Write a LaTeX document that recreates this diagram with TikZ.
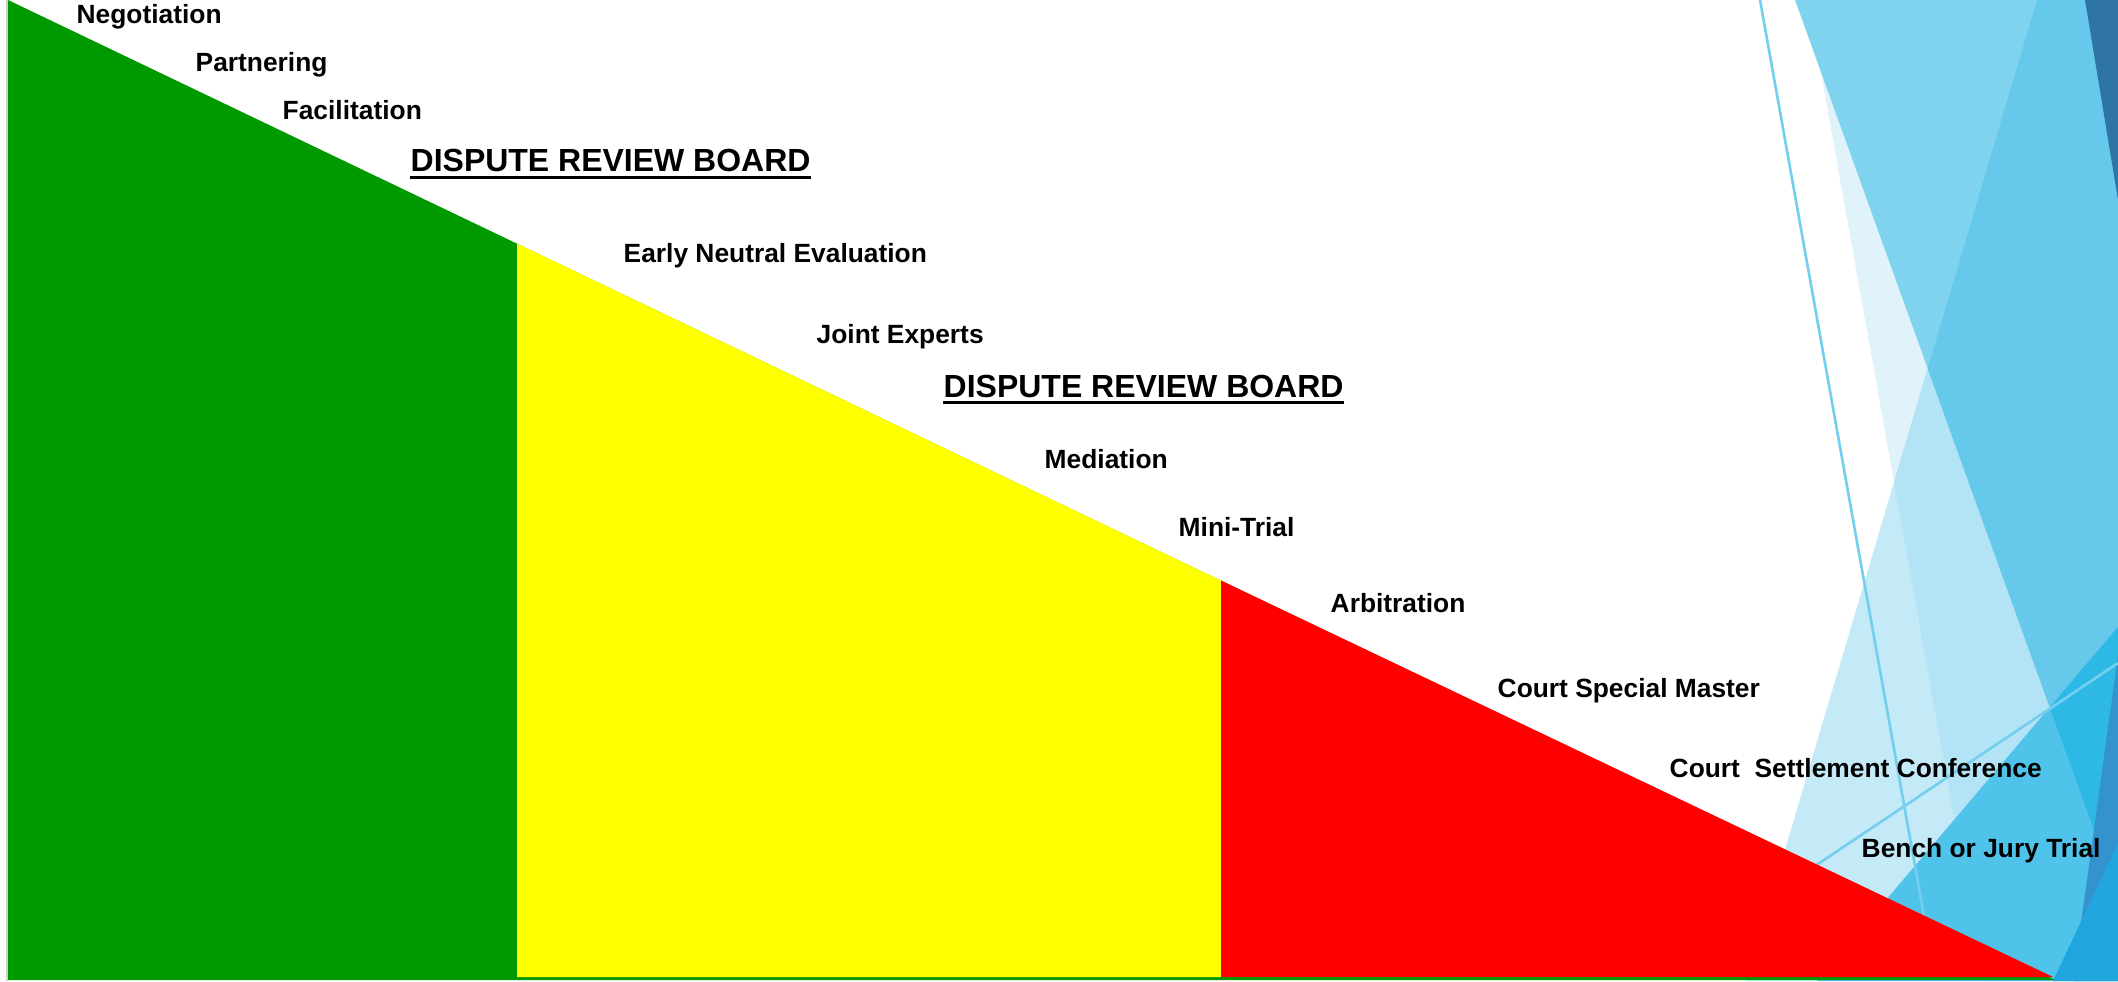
\documentclass[tikz,border=0pt]{standalone}
\usepackage{fontspec}
\setmainfont{Liberation Sans}
\usepackage{tikz}
\usetikzlibrary{positioning,calc}
\usepackage{xcolor}
\definecolor{adrgreen}{HTML}{009900}
\definecolor{adryellow}{HTML}{FFFF00}
\definecolor{adrred}{HTML}{FF0000}
\definecolor{facetpale}{HTML}{E0F3FA}
\definecolor{facetlight}{HTML}{C5EAF7}
\definecolor{facetmix}{HTML}{B3E4F5}
\definecolor{facetsky}{HTML}{7FD3EE}
\definecolor{facetmid}{HTML}{66C9EC}
\definecolor{facetbright}{HTML}{4FC3EA}
\definecolor{facetdeep}{HTML}{2DB8E6}
\definecolor{facetsteel}{HTML}{3493CE}
\definecolor{facetcorner}{HTML}{20A5DC}
\definecolor{facetnavy}{HTML}{2E75A6}
\definecolor{facetstroke}{HTML}{74CFEE}
\tikzset{
  steplabel/.style={
    anchor=base west,
    inner sep=0pt,
    font=\fontsize{7.5}{9}\selectfont\bfseries
  },
  boardlabel/.style={
    anchor=base west,
    inner sep=0pt,
    font=\fontsize{9.1}{11}\selectfont\bfseries
  },
  boardrule/.style={
    line width=0.85pt
  },
  facetthin/.style={
    draw=facetstroke,
    line width=0.75pt
  }
}

\begin{document}
\begin{tikzpicture}[x=0.1mm, y=-0.1mm]
\useasboundingbox (0,0) rectangle (2118,981);
% facet paths
\def\palefacet{(1808,0) -- (2118,0) -- (2118,981) -- (1983,981) -- cycle}
\def\lightfacet{(2037,0) -- (2118,0) -- (2118,981) -- (1746,981) -- cycle}
\def\skyfacet{(1795,0) -- (2118,0) -- (2118,897) -- cycle}
\def\brightfacet{(2118,627) -- (1817,981) -- (2118,981) -- cycle}
% blue facets on the right
\fill[facetpale] \palefacet;
\fill[facetlight] \lightfacet;
\begin{scope}
  \clip \lightfacet;
  \fill[facetmix] \palefacet;
\end{scope}
\fill[facetsky] \skyfacet;
\begin{scope}
  \clip \skyfacet;
  \fill[facetmid] \lightfacet;
\end{scope}
\fill[facetbright] \brightfacet;
\begin{scope}
  \clip \brightfacet;
  \fill[facetdeep] \skyfacet;
\end{scope}
\fill[facetsteel] (2118,655) -- (2073,981) -- (2118,981) -- cycle;
\fill[facetcorner] (2118,843) -- (2053,981) -- (2118,981) -- cycle;
\fill[facetnavy] (2085,0) -- (2118,0) -- (2118,200) -- cycle;
\draw[facetthin] (1760,0) -- (1930,950);
\draw[facetthin] (2118,663) -- (1800,876);
% left edge
\draw[black!18, line width=0.4pt] (7,0) -- (7,981);
% the staircase triangle
\coordinate (apex) at (8,0);
\coordinate (tip) at (2055,980);
\coordinate (gy) at (517,243.5);
\coordinate (yr) at (1221,580.5);
\fill[adrgreen] (apex) -- (tip) -- (8,980) -- cycle;
\fill[adryellow] (gy) -- (yr) -- (1221,977) -- (517,977) -- cycle;
\fill[adrred] (yr) -- (2053,977) -- (1221,977) -- cycle;
% labels
\node[steplabel] (nego) at (76,24) {Negotiation};
\node[steplabel] (partner) at (195,72) {Partnering};
\node[steplabel] (facil) at (282,120) {Facilitation};
\node[boardlabel] (drbone) at (410,172) {DISPUTE REVIEW BOARD};
\node[steplabel] (neutral) at (623,263) {Early Neutral Evaluation};
\node[steplabel] (experts) at (816,344) {Joint Experts};
\node[boardlabel] (drbtwo) at (943,397) {DISPUTE REVIEW BOARD};
\node[steplabel] (mediate) at (1044,468) {Mediation};
\node[steplabel] (minitrial) at (1178,536) {Mini-Trial};
\node[steplabel] (arbit) at (1330,612) {Arbitration};
\node[steplabel] (master) at (1497,697) {Court Special Master};
\node[steplabel] (settle) at (1669,777) {Court\ \ Settlement Conference};
\node[steplabel] (trial) at (1861,857) {Bench or Jury Trial};
\draw[boardrule] ([yshift=-1.7pt]drbone.base west) -- ([yshift=-1.7pt]drbone.base east);
\draw[boardrule] ([yshift=-1.7pt]drbtwo.base west) -- ([yshift=-1.7pt]drbtwo.base east);
\end{tikzpicture}
\end{document}
